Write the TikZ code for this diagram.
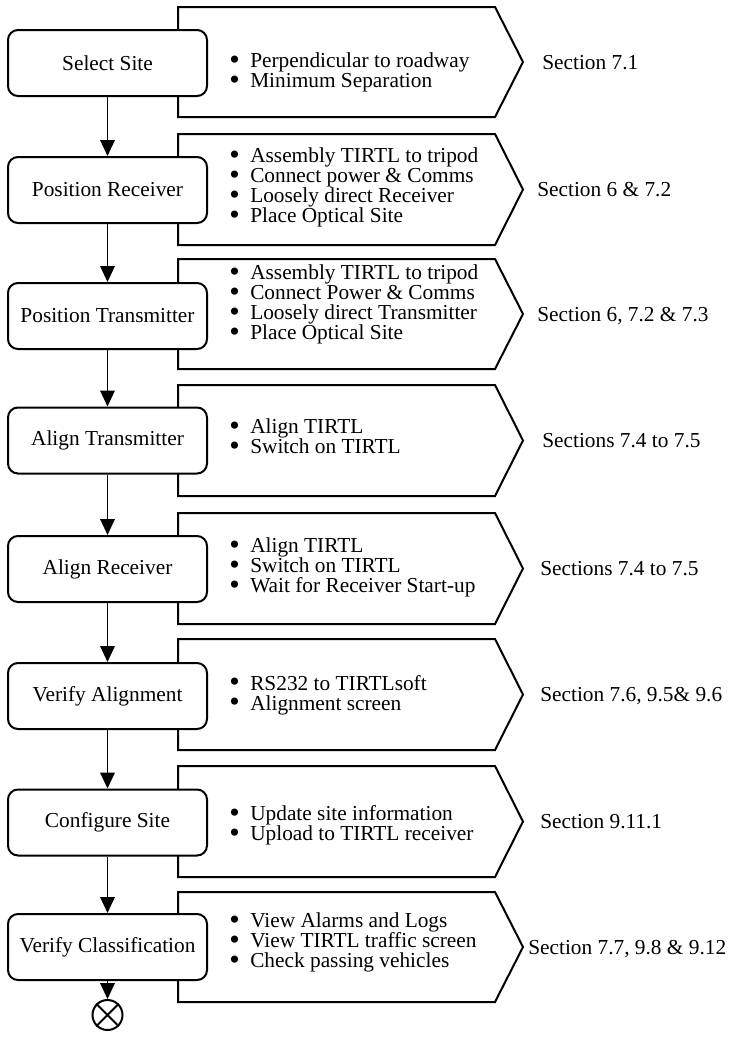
\documentclass[tikz,border=0pt]{standalone}
\usepackage{fontspec}
\setmainfont{Liberation Serif}
\usetikzlibrary{arrows.meta, positioning}
\newcommand{\bitem}[1]{\makebox[15.75pt][l]{\raisebox{-0.08em}{\scalebox{1.4}{\textbullet}}}#1\strut}

\begin{document}
\begin{tikzpicture}[x=0.75pt, y=-0.75pt,
  stepbox/.style={draw, line width=1.5pt, rounded corners=7.5pt, fill=white,
    minimum width=149.25pt, minimum height=49.5pt, inner sep=0pt,
    font=\fontsize{16pt}{14.5pt}\selectfont},
  infobox/.style={draw, line width=1.5pt, line join=miter},
  itemlist/.style={anchor=west, align=left, inner sep=0pt,
    font={\fontsize{16pt}{15pt}\selectfont\lineskiplimit=-20pt}},
  secref/.style={anchor=base west, inner sep=0pt,
    font=\fontsize{16pt}{14.5pt}\selectfont},
  flow/.style={-{Triangle[length=12pt, width=11pt]}, line width=1pt}]
\useasboundingbox (0,0) rectangle (731,1039);

% chevrons behind the step boxes
\draw[infobox] (178,7) -- (495,7) -- (523,62) -- (495,117) -- (178,117) -- cycle;
\draw[infobox] (178,134) -- (495,134) -- (523,189.5) -- (495,245) -- (178,245) -- cycle;
\draw[infobox] (178,259) -- (495,259) -- (523,314) -- (495,369) -- (178,369) -- cycle;
\draw[infobox] (178,385) -- (495,385) -- (523,440.5) -- (495,496) -- (178,496) -- cycle;
\draw[infobox] (178,513) -- (495,513) -- (523,568.5) -- (495,624) -- (178,624) -- cycle;
\draw[infobox] (178,639) -- (495,639) -- (523,694.5) -- (495,750) -- (178,750) -- cycle;
\draw[infobox] (178,766) -- (495,766) -- (523,821.5) -- (495,877) -- (178,877) -- cycle;
\draw[infobox] (178,892) -- (495,892) -- (523,947) -- (495,1002) -- (178,1002) -- cycle;

% steps
\node[stepbox] (site) at (107.5,63) {Select Site};
\node[stepbox] (receiver) at (107.5,190) {Position Receiver};
\node[stepbox] (transmitter) at (107.5,316) {Position Transmitter};
\node[stepbox] (aligntx) at (107.5,440.5) {Align Transmitter};
\node[stepbox] (alignrx) at (107.5,569) {Align Receiver};
\node[stepbox] (verifyalign) at (107.5,696) {Verify Alignment};
\node[stepbox] (config) at (107.5,822.5) {Configure Site};
\node[stepbox] (verifyclass) at (107.5,947) {Verify Classification};
\node[draw, circle, line width=1.5pt, minimum size=22.5pt, inner sep=0pt,
  below=13.5pt of verifyclass] (stop) {};
\draw[line width=1.5pt] (stop.north west) -- (stop.south east)
  (stop.north east) -- (stop.south west);

% bullet lists
\node[itemlist] (site-list) at (229,73.5)
  {\bitem{Perpendicular to roadway}\\ \bitem{Minimum Separation}};
\node[itemlist] (receiver-list) at (229,188)
  {\bitem{Assembly TIRTL to tripod}\\ \bitem{Connect power \& Comms}\\
   \bitem{Loosely direct Receiver}\\ \bitem{Place Optical Site}};
\node[itemlist] (transmitter-list) at (229,305)
  {\bitem{Assembly TIRTL to tripod}\\ \bitem{Connect Power \& Comms}\\
   \bitem{Loosely direct Transmitter}\\ \bitem{Place Optical Site}};
\node[itemlist] (aligntx-list) at (229,439.5)
  {\bitem{Align TIRTL}\\ \bitem{Switch on TIRTL}};
\node[itemlist] (alignrx-list) at (229,568)
  {\bitem{Align TIRTL}\\ \bitem{Switch on TIRTL}\\ \bitem{Wait for Receiver Start-up}};
\node[itemlist] (verifyalign-list) at (229,695.5)
  {\bitem{RS232 to TIRTLsoft}\\ \bitem{Alignment screen}};
\node[itemlist] (config-list) at (229,826)
  {\bitem{Update site information}\\ \bitem{Upload to TIRTL receiver}};
\node[itemlist] (verifyclass-list) at (229,943)
  {\bitem{View Alarms and Logs}\\ \bitem{View TIRTL traffic screen}\\
   \bitem{Check passing vehicles}};

% section references
\node[secref] (site-ref) at (542,69) {Section 7.1};
\node[secref] (receiver-ref) at (537,196.5) {Section 6 \& 7.2};
\node[secref] (transmitter-ref) at (537,321) {Section 6, 7.2 \& 7.3};
\node[secref] (aligntx-ref) at (542,447.5) {Sections 7.4 to 7.5};
\node[secref] (alignrx-ref) at (540,575.5) {Sections 7.4 to 7.5};
\node[secref] (verifyalign-ref) at (540,701.5) {Section 7.6, 9.5\& 9.6};
\node[secref] (config-ref) at (540,828.5) {Section 9.11.1};
\node[secref] (verifyclass-ref) at (528,954) {Section 7.7, 9.8 \& 9.12};

% flow
\draw[flow] (site) -- (receiver);
\draw[flow] (receiver) -- (transmitter);
\draw[flow] (transmitter) -- (aligntx);
\draw[flow] (aligntx) -- (alignrx);
\draw[flow] (alignrx) -- (verifyalign);
\draw[flow] (verifyalign) -- (config);
\draw[flow] (config) -- (verifyclass);
\draw[flow] (verifyclass) -- (stop);
\end{tikzpicture}
\end{document}
